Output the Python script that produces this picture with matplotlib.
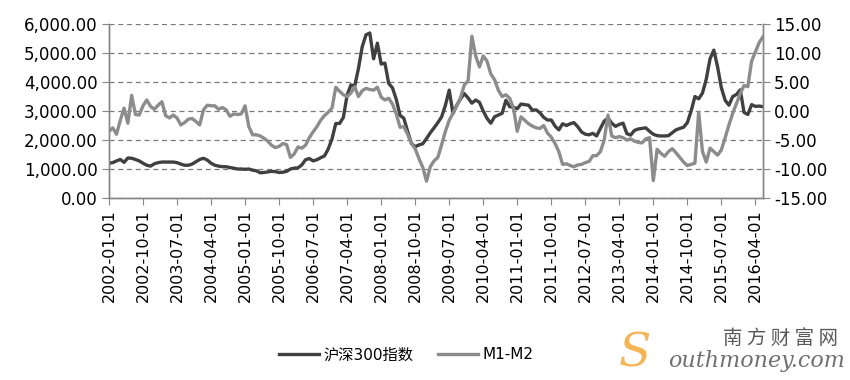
import numpy as np
import pandas as pd
import matplotlib
matplotlib.use('Agg')
import matplotlib.pyplot as plt

plt.rcParams['font.family'] = ['DejaVu Sans', 'Noto Sans CJK SC']

# monthly, 2002-01 .. 2016-06
months = pd.date_range('2002-01-01', periods=174, freq='MS')

# CSI 300 index (left axis)
csi300 = [
    1200, 1220, 1280, 1330, 1230, 1380, 1370, 1330, 1280, 1200, 1130, 1100,
    1180, 1220, 1240, 1240, 1240, 1240, 1220, 1170, 1130, 1130, 1170, 1250,
    1330, 1370, 1310, 1200, 1130, 1100, 1080, 1080, 1050, 1030, 1000, 1000,
    990, 1000, 960, 940, 870, 880, 900, 920, 910, 880, 890, 920,
    1000, 1030, 1040, 1140, 1320, 1360, 1280, 1320, 1390, 1450, 1690, 2040,
    2570, 2570, 2780, 3550, 3900, 3860, 4470, 5220, 5630, 5690, 4800, 5340,
    4620, 4650, 3950, 3800, 3400, 2850, 2750, 2300, 1880, 1770, 1830, 1870,
    2050, 2250, 2420, 2600, 2800, 3200, 3720, 2920, 3200, 3420, 3600, 3450,
    3270, 3380, 3300, 3000, 2750, 2580, 2800, 2860, 2920, 3370, 3150, 3130,
    3080, 3240, 3220, 3200, 3030, 3040, 2940, 2780, 2690, 2690, 2480, 2350,
    2560, 2500, 2560, 2600, 2460, 2280, 2200, 2180, 2230, 2140, 2400, 2650,
    2760, 2580, 2470, 2540, 2580, 2220, 2170, 2330, 2380, 2400, 2420, 2300,
    2200, 2150, 2140, 2140, 2150, 2250, 2350, 2400, 2440, 2600, 3000, 3500,
    3420, 3620, 4100, 4800, 5100, 4520, 3800, 3370, 3200, 3500, 3570, 3730,
    2950, 2880, 3220, 3160, 3170, 3150,
]

# M1 growth minus M2 growth, % (right axis)
m1_m2 = [
    -3.5, -2.9, -4.0, -1.6, 0.5, -2.1, 2.7, -0.6, -0.7, 0.9, 1.9, 0.8,
    0.3, 1.0, 1.6, -0.8, -1.2, -0.7, -1.2, -2.4, -2.0, -1.4, -1.3, -1.8,
    -2.4, 0.2, 1.0, 0.9, 0.9, 0.3, 0.6, 0.2, -0.9, -0.5, -0.6, -0.5,
    0.9, -2.7, -4.1, -4.1, -4.3, -4.7, -5.2, -5.9, -6.3, -6.1, -5.6, -5.8,
    -8.0, -7.4, -6.2, -6.4, -5.9, -4.6, -3.6, -2.7, -1.6, -0.8, -0.2, 0.5,
    4.1, 3.4, 2.8, 2.5, 3.1, 4.2, 2.5, 3.5, 3.9, 3.7, 3.6, 4.1,
    2.4, 1.9, 2.2, 1.2, -0.5, -2.8, -2.7, -4.0, -5.6, -6.5, -8.2, -9.7,
    -12.1, -9.6, -8.6, -8.0, -5.8, -3.5, -1.6, -0.4, 0.9, 2.3, 4.5, 5.2,
    12.9, 9.5, 7.6, 9.5, 8.6, 6.4, 5.4, 3.6, 2.5, 2.8, 2.2, 0.5,
    -3.5, -1.0, -1.6, -2.2, -2.6, -2.9, -3.0, -2.5, -3.8, -4.5, -5.6, -7.0,
    -9.2, -9.1, -9.4, -9.6, -9.3, -9.2, -8.9, -8.7, -7.7, -7.7, -7.0, -5.0,
    -0.7, -4.3, -4.6, -4.4, -4.6, -5.0, -4.8, -5.2, -5.4, -5.5, -4.8, -4.6,
    -12.0, -6.6, -7.3, -7.8, -7.0, -6.5, -7.2, -8.0, -8.8, -9.4, -9.2, -9.0,
    -0.2, -7.0, -8.8, -6.4, -7.0, -7.6, -6.7, -4.6, -2.4, -0.4, 1.3, 3.0,
    4.4, 4.2, 8.6, 10.2, 11.8, 12.8,
]

series_names = ['沪深300指数', 'M1-M2']

x = np.arange(len(months))
tick_idx = x[::9]
tick_labels = [months[i].strftime('%Y-%m-%d') for i in tick_idx]

axis_col = '#868686'

fig = plt.figure(figsize=(8.5, 3.8), dpi=100)
ax = fig.add_axes([0.1282, 0.4789, 0.7694, 0.4579])
ax2 = ax.twinx()

l1, = ax.plot(x, csi300, color='#404040', lw=2.4, solid_joinstyle='round')
l2, = ax2.plot(x, m1_m2, color='#8c8c8c', lw=2.4, solid_joinstyle='round')

ax.set_xlim(0, len(x) - 1)
ax.set_ylim(0, 6000)
ax.set_yticks(range(0, 6001, 1000))
ax.yaxis.set_major_formatter(lambda v, p: f'{v:,.2f}')
ax2.set_ylim(-15, 15)
ax2.set_yticks(range(-15, 16, 5))
ax2.yaxis.set_major_formatter(lambda v, p: f'{v:.2f}')

ax.grid(axis='y', linestyle=(0, (4, 3)), color='#7a7a7a', lw=0.9)
ax.set_axisbelow(True)

for a in (ax, ax2):
    a.spines['top'].set_visible(False)
    for s in ('left', 'right', 'bottom'):
        a.spines[s].set_color(axis_col)
        a.spines[s].set_linewidth(1.0)

ax.set_xticks(tick_idx)
ax.set_xticklabels(tick_labels, rotation=90)
ax.tick_params(axis='x', length=5, color=axis_col, labelsize=11.5, pad=3)
ax.tick_params(axis='y', length=5, color=axis_col, labelsize=12, pad=3)
ax2.tick_params(axis='y', length=5, color=axis_col, labelsize=12, pad=3)

fig.legend([l1, l2], series_names, loc='center', bbox_to_anchor=(0.478, 0.066),
           ncol=2, frameon=False, fontsize=11, handlelength=2.6,
           handletextpad=0.3, columnspacing=1.6)

# site watermark
fig.text(0.728, 0.035, 'S', fontsize=34, color='#f5b556', style='italic',
         family='DejaVu Serif', va='baseline')
fig.text(0.986, 0.095, '南 方 财 富 网', fontsize=14, color='#5a5a5a', ha='right',
         family=['Noto Sans CJK SC', 'DejaVu Sans'], va='baseline')
fig.text(0.994, 0.035, 'outhmoney.com', fontsize=16, color='#707070', ha='right',
         style='italic', family='DejaVu Serif', va='baseline')

fig.savefig('out.png', dpi=100)
